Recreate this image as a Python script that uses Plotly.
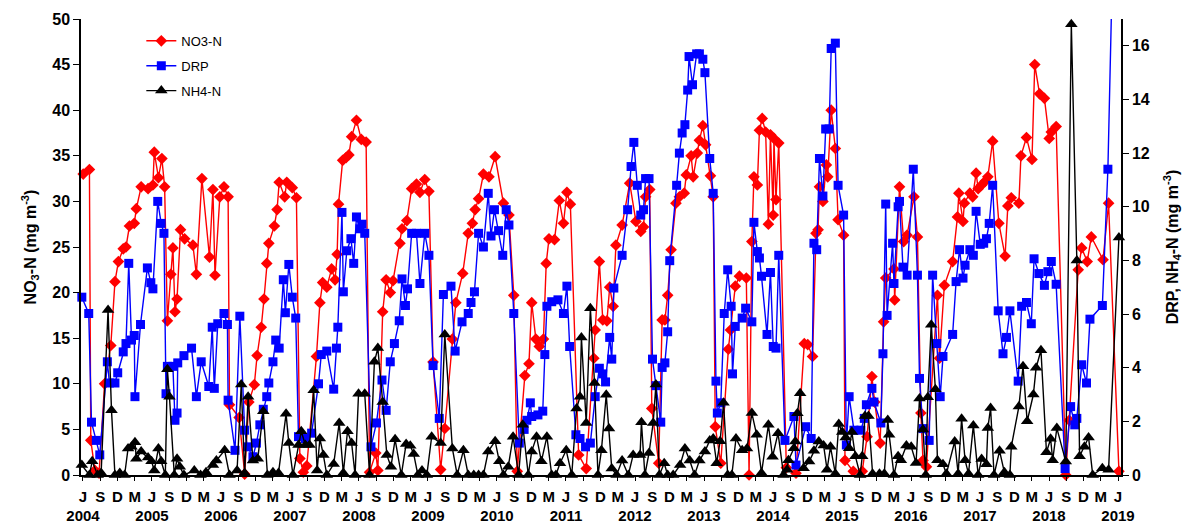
import plotly.graph_objects as go

# ---- sampling times (decimal years) and values ----
no3_t = [2004.42, 2004.51, 2004.53, 2004.59, 2004.65, 2004.73, 2004.82, 2004.88, 2004.93, 2005.00,
         2005.04, 2005.09, 2005.16, 2005.19, 2005.26, 2005.36, 2005.43, 2005.45, 2005.51, 2005.56,
         2005.60, 2005.64, 2005.69, 2005.72, 2005.75, 2005.78, 2005.83, 2005.89, 2006.01, 2006.06,
         2006.14, 2006.25, 2006.30, 2006.33, 2006.40, 2006.46, 2006.52, 2006.54, 2006.68, 2006.76,
         2006.82, 2006.90, 2006.94, 2007.00, 2007.04, 2007.08, 2007.11, 2007.19, 2007.23, 2007.26,
         2007.34, 2007.37, 2007.45, 2007.51, 2007.56, 2007.61, 2007.66, 2007.80, 2007.85, 2007.89,
         2007.95, 2008.02, 2008.07, 2008.10, 2008.12, 2008.18, 2008.23, 2008.27, 2008.31, 2008.38,
         2008.45, 2008.52, 2008.57, 2008.66, 2008.69, 2008.76, 2008.81, 2008.87, 2008.91, 2009.01,
         2009.04, 2009.11, 2009.18, 2009.25, 2009.30, 2009.37, 2009.43, 2009.49, 2009.60, 2009.66,
         2009.77, 2009.82, 2009.92, 2010.00, 2010.06, 2010.10, 2010.15, 2010.22, 2010.30, 2010.39,
         2010.51, 2010.59, 2010.66, 2010.71, 2010.82, 2010.88, 2010.92, 2010.98, 2011.03, 2011.09,
         2011.13, 2011.17, 2011.25, 2011.32, 2011.38, 2011.43, 2011.48, 2011.60, 2011.71, 2011.82,
         2011.84, 2011.90, 2011.95, 2012.01, 2012.05, 2012.10, 2012.14, 2012.23, 2012.34, 2012.43,
         2012.50, 2012.54, 2012.57, 2012.63, 2012.66, 2012.76, 2012.81, 2012.85, 2012.89, 2012.94,
         2013.01, 2013.06, 2013.13, 2013.16, 2013.23, 2013.26, 2013.32, 2013.35, 2013.40, 2013.44,
         2013.51, 2013.55, 2013.58, 2013.66, 2013.77, 2013.80, 2013.87, 2013.93, 2014.03, 2014.07,
         2014.11, 2014.14, 2014.19, 2014.22, 2014.26, 2014.31, 2014.35, 2014.38, 2014.42, 2014.43,
         2014.46, 2014.50, 2014.61, 2014.75, 2014.87, 2014.92, 2014.99, 2015.04, 2015.07, 2015.09,
         2015.14, 2015.19, 2015.21, 2015.26, 2015.32, 2015.36, 2015.44, 2015.46, 2015.58, 2015.71,
         2015.78, 2015.85, 2015.89, 2015.97, 2016.02, 2016.05, 2016.17, 2016.18, 2016.25, 2016.31,
         2016.36, 2016.46, 2016.51, 2016.56, 2016.59, 2016.64, 2016.80, 2016.83, 2016.90, 2017.02,
         2017.09, 2017.11, 2017.17, 2017.19, 2017.27, 2017.31, 2017.36, 2017.39, 2017.44, 2017.49,
         2017.53, 2017.60, 2017.69, 2017.78, 2017.82, 2017.87, 2017.98, 2018.01, 2018.09, 2018.17,
         2018.21, 2018.28, 2018.35, 2018.42, 2018.45, 2018.52, 2018.66, 2018.71, 2018.84, 2018.89,
         2018.97, 2019.03, 2019.20, 2019.28, 2019.43]
no3_v = [33.0, 33.5, 3.8, 0.5, 0.2, 10.0, 14.2, 21.2, 23.4, 24.8,
         25.0, 27.3, 27.6, 29.2, 31.6, 31.4, 31.8, 35.4, 32.6, 34.7,
         31.6, 16.9, 22.0, 24.9, 17.9, 19.3, 26.9, 25.9, 25.2, 22.0,
         32.5, 23.9, 31.3, 21.9, 30.5, 31.6, 30.5, 7.7, 6.3, 0.1,
         8.0, 9.9, 13.1, 16.2, 19.3, 23.2, 25.4, 27.3, 29.1, 32.1,
         30.5, 32.1, 31.5, 30.4, 1.8, 0.3, 1.0, 13.0, 18.9, 21.1,
         20.6, 22.6, 21.4, 24.2, 29.7, 34.5, 34.8, 35.1, 37.1, 38.9,
         36.8, 36.5, 0.3, 2.4, 0.5, 17.9, 21.4, 20.0, 21.3, 25.4,
         27.0, 27.9, 31.4, 31.9, 31.0, 32.4, 31.1, 12.4, 0.6, 5.1,
         14.9, 18.9, 22.1, 26.5, 27.6, 29.1, 30.3, 33.0, 32.7, 34.9,
         29.8, 28.5, 19.7, 0.4, 10.9, 12.2, 18.9, 14.9, 14.1, 14.9,
         23.2, 25.9, 25.8, 30.1, 27.6, 31.0, 29.7, 2.2, 0.7, 12.8,
         15.9, 23.4, 17.0, 16.9, 20.6, 18.5, 25.2, 27.4, 32.0, 27.8,
         26.7, 27.2, 30.5, 31.3, 7.3, 1.3, 17.0, 17.0, 19.7, 24.7,
         29.8, 30.5, 30.9, 32.9, 35.0, 32.7, 35.3, 36.7, 38.3, 36.2,
         32.8, 30.5, 5.3, 1.3, 13.8, 15.9, 20.7, 21.8, 21.6, 0.0,
         25.6, 32.7, 31.8, 37.8, 39.1, 37.6, 27.5, 37.3, 28.5, 36.9,
         30.2, 36.4, 0.8, 0.2, 14.4, 14.3, 13.0, 26.5, 26.9, 31.6,
         30.0, 34.0, 32.7, 40.0, 35.8, 28.0, 26.3, 1.6, 0.4, 0.4,
         4.2, 10.8, 8.0, 3.5, 16.8, 21.6, 22.6, 19.2, 31.6, 25.6,
         26.3, 30.5, 26.1, 6.8, 1.6, 0.9, 19.7, 12.8, 20.8, 23.4,
         28.3, 30.9, 27.8, 29.8, 30.9, 30.5, 33.1, 31.4, 31.8, 32.2,
         32.7, 36.6, 27.6, 24.0, 29.5, 30.4, 29.8, 35.0, 37.0, 34.6,
         45.0, 41.8, 41.3, 36.9, 37.6, 38.2, 0.0, 6.0, 22.5, 24.9,
         23.4, 26.1, 23.6, 29.8, 0.4]

drp_t = [2004.40, 2004.50, 2004.54, 2004.61, 2004.66, 2004.77, 2004.80, 2004.88, 2004.92, 2005.00,
         2005.04, 2005.08, 2005.12, 2005.16, 2005.17, 2005.25, 2005.35, 2005.40, 2005.43, 2005.50,
         2005.55, 2005.59, 2005.62, 2005.64, 2005.72, 2005.75, 2005.78, 2005.79, 2005.88, 2005.99,
         2006.06, 2006.13, 2006.24, 2006.29, 2006.32, 2006.37, 2006.46, 2006.51, 2006.52, 2006.62,
         2006.69, 2006.76, 2006.80, 2006.88, 2006.93, 2006.98, 2007.03, 2007.08, 2007.11, 2007.17,
         2007.21, 2007.26, 2007.32, 2007.35, 2007.40, 2007.45, 2007.50, 2007.54, 2007.64, 2007.73,
         2007.83, 2007.87, 2007.95, 2008.05, 2008.09, 2008.11, 2008.17, 2008.19, 2008.24, 2008.30,
         2008.34, 2008.38, 2008.43, 2008.46, 2008.50, 2008.59, 2008.67, 2008.75, 2008.81, 2008.87,
         2008.93, 2009.00, 2009.04, 2009.09, 2009.12, 2009.18, 2009.25, 2009.30, 2009.37, 2009.43,
         2009.49, 2009.58, 2009.64, 2009.75, 2009.81, 2009.91, 2010.00, 2010.04, 2010.09, 2010.15,
         2010.22, 2010.29, 2010.33, 2010.38, 2010.44, 2010.50, 2010.55, 2010.59, 2010.66, 2010.74,
         2010.81, 2010.85, 2010.90, 2010.92, 2011.01, 2011.08, 2011.11, 2011.14, 2011.21, 2011.30,
         2011.38, 2011.43, 2011.47, 2011.56, 2011.62, 2011.70, 2011.77, 2011.84, 2011.90, 2011.95,
         2011.99, 2012.05, 2012.08, 2012.11, 2012.23, 2012.31, 2012.36, 2012.40, 2012.45, 2012.50,
         2012.54, 2012.57, 2012.62, 2012.67, 2012.72, 2012.79, 2012.81, 2012.85, 2012.89, 2012.92,
         2013.02, 2013.06, 2013.10, 2013.14, 2013.18, 2013.20, 2013.25, 2013.31, 2013.35, 2013.40,
         2013.43, 2013.50, 2013.55, 2013.59, 2013.61, 2013.66, 2013.71, 2013.76, 2013.81, 2013.83,
         2013.87, 2013.97, 2014.02, 2014.11, 2014.14, 2014.19, 2014.22, 2014.25, 2014.33, 2014.38,
         2014.42, 2014.46, 2014.50, 2014.59, 2014.72, 2014.75, 2014.89, 2014.97, 2015.01, 2015.05,
         2015.09, 2015.14, 2015.18, 2015.23, 2015.26, 2015.32, 2015.36, 2015.44, 2015.48, 2015.52,
         2015.59, 2015.69, 2015.74, 2015.77, 2015.85, 2015.88, 2015.98, 2016.01, 2016.05, 2016.07,
         2016.15, 2016.17, 2016.23, 2016.25, 2016.30, 2016.36, 2016.45, 2016.51, 2016.54, 2016.59,
         2016.68, 2016.73, 2016.79, 2016.84, 2016.88, 2017.02, 2017.07, 2017.12, 2017.17, 2017.20,
         2017.27, 2017.32, 2017.36, 2017.42, 2017.47, 2017.51, 2017.55, 2017.60, 2017.68, 2017.75,
         2017.80, 2017.85, 2017.97, 2018.02, 2018.09, 2018.16, 2018.20, 2018.27, 2018.35, 2018.40,
         2018.45, 2018.52, 2018.65, 2018.73, 2018.79, 2018.82, 2018.89, 2018.96, 2019.01, 2019.19,
         2019.27, 2019.42]
drp_v = [6.63, 6.02, 1.97, 1.29, 0.75, 4.22, 3.43, 3.43, 3.81, 4.59,
         4.90, 7.89, 5.03, 5.20, 2.92, 5.61, 7.72, 7.17, 6.94, 10.2,
         9.38, 9.01, 3.03, 4.05, 4.05, 2.04, 2.31, 4.18, 4.45, 4.73,
         2.92, 4.22, 3.30, 5.51, 3.23, 5.64, 6.02, 5.61, 2.79, 0.92,
         5.92, 1.67, 1.05, 0.68, 1.19, 1.87, 2.45, 2.92, 3.43, 4.22,
         5.03, 4.73, 7.28, 6.05, 7.85, 6.63, 5.85, 1.43, 1.36, 1.56,
         3.40, 4.49, 4.62, 3.20, 4.73, 5.51, 9.79, 6.83, 8.36, 8.81,
         7.89, 9.62, 9.18, 9.35, 9.01, 1.05, 1.94, 3.54, 2.41, 4.22,
         4.90, 5.75, 7.31, 6.32, 6.94, 9.01, 9.01, 7.14, 9.01, 8.19,
         4.08, 2.11, 6.73, 7.04, 4.62, 5.71, 6.02, 6.43, 6.83, 9.01,
         8.50, 10.5, 8.91, 9.89, 9.11, 8.19, 9.89, 9.32, 6.02, 1.19,
         1.70, 2.04, 2.69, 2.18, 2.24, 2.38, 4.49, 6.29, 6.46, 6.53,
         6.02, 7.04, 4.79, 1.50, 1.36, 1.05, 1.19, 2.92, 3.98, 3.77,
         3.47, 5.13, 4.32, 6.97, 8.19, 9.89, 11.5, 12.4, 10.8, 9.69,
         9.89, 11.05, 11.05, 4.32, 3.33, 1.97, 4.01, 4.18, 5.34, 7.99,
         10.8, 12.0, 12.75, 13.06, 14.35, 15.6, 14.55, 15.7, 15.7, 15.5,
         15.0, 11.8, 10.5, 3.50, 2.31, 2.69, 6.02, 7.65, 6.29, 3.77,
         5.54, 5.85, 6.22, 5.71, 9.42, 8.33, 8.09, 7.41, 5.24, 7.55,
         4.79, 4.73, 8.19, 1.29, 2.18, 0.37, 1.80, 1.36, 8.64, 8.40,
         11.8, 10.4, 12.9, 12.9, 15.9, 16.1, 10.8, 9.69, 1.12, 2.92,
         1.67, 1.67, 2.11, 2.62, 3.23, 2.72, 1.94, 4.52, 10.1, 5.95,
         8.64, 7.14, 10.0, 10.2, 7.75, 7.45, 11.4, 7.45, 3.60, 1.73,
         1.29, 7.45, 4.90, 2.92, 4.42, 5.24, 7.21, 8.40, 7.34, 7.82,
         8.40, 8.19, 9.83, 8.60, 8.64, 8.81, 9.38, 10.8, 6.12, 4.52,
         5.13, 6.12, 3.50, 6.29, 6.43, 5.64, 8.06, 7.51, 7.07, 7.58,
         7.96, 7.11, 0.24, 2.55, 1.87, 2.11, 4.11, 3.43, 5.81, 6.32,
         11.4, 28.5]

nh4_t = [2004.40, 2004.51, 2004.55, 2004.63, 2004.68, 2004.78, 2004.83, 2004.88, 2004.95, 2005.02,
         2005.07, 2005.12, 2005.17, 2005.19, 2005.26, 2005.36, 2005.41, 2005.45, 2005.51, 2005.55,
         2005.61, 2005.64, 2005.67, 2005.74, 2005.78, 2005.82, 2005.88, 2006.03, 2006.12, 2006.20,
         2006.30, 2006.35, 2006.47, 2006.54, 2006.65, 2006.71, 2006.76, 2006.81, 2006.88, 2006.95,
         2007.03, 2007.09, 2007.17, 2007.25, 2007.36, 2007.40, 2007.46, 2007.54, 2007.58, 2007.64,
         2007.70, 2007.76, 2007.81, 2007.85, 2007.90, 2007.95, 2008.05, 2008.13, 2008.19, 2008.25,
         2008.31, 2008.36, 2008.41, 2008.50, 2008.57, 2008.64, 2008.69, 2008.76, 2008.82, 2008.88,
         2008.94, 2009.03, 2009.10, 2009.16, 2009.21, 2009.27, 2009.33, 2009.40, 2009.47, 2009.60,
         2009.66, 2009.77, 2009.84, 2009.93, 2010.00, 2010.08, 2010.15, 2010.22, 2010.29, 2010.39,
         2010.45, 2010.51, 2010.58, 2010.65, 2010.73, 2010.79, 2010.87, 2010.92, 2010.99, 2011.06,
         2011.14, 2011.21, 2011.27, 2011.33, 2011.42, 2011.50, 2011.57, 2011.62, 2011.64, 2011.71,
         2011.77, 2011.83, 2011.88, 2011.93, 2012.00, 2012.04, 2012.08, 2012.15, 2012.23, 2012.32,
         2012.39, 2012.49, 2012.51, 2012.56, 2012.62, 2012.68, 2012.72, 2012.77, 2012.84, 2012.89,
         2012.97, 2013.07, 2013.14, 2013.21, 2013.28, 2013.35, 2013.43, 2013.50, 2013.55, 2013.60,
         2013.65, 2013.70, 2013.76, 2013.82, 2013.88, 2013.97, 2014.04, 2014.11, 2014.18, 2014.25,
         2014.35, 2014.41, 2014.49, 2014.57, 2014.62, 2014.64, 2014.72, 2014.74, 2014.77, 2014.81,
         2014.86, 2014.94, 2015.01, 2015.08, 2015.15, 2015.20, 2015.25, 2015.32, 2015.37, 2015.42,
         2015.47, 2015.52, 2015.56, 2015.61, 2015.68, 2015.71, 2015.75, 2015.80, 2015.86, 2015.96,
         2016.03, 2016.08, 2016.10, 2016.17, 2016.23, 2016.27, 2016.35, 2016.42, 2016.49, 2016.54,
         2016.59, 2016.63, 2016.66, 2016.71, 2016.77, 2016.80, 2016.88, 2016.93, 2017.05, 2017.10,
         2017.15, 2017.20, 2017.25, 2017.32, 2017.39, 2017.44, 2017.51, 2017.53, 2017.57, 2017.62,
         2017.70, 2017.77, 2017.85, 2017.87, 2017.98, 2018.04, 2018.10, 2018.19, 2018.23, 2018.30,
         2018.38, 2018.44, 2018.47, 2018.53, 2018.66, 2018.74, 2018.82, 2018.86, 2018.93, 2018.99,
         2019.05, 2019.19, 2019.28, 2019.43]
nh4_v = [0.37, 0.0, 0.51, 0.0, 0.07, 6.15, 2.41, 0.0, 0.07, 0.0,
         0.99, 1.05, 1.22, 0.61, 0.88, 0.65, 0.51, 0.17, 0.99, 0.51,
         0.0, 3.94, 2.92, 0.0, 0.61, 0.31, 0.0, 0.17, 0.0, 0.10,
         0.37, 0.54, 0.92, 0.0, 0.17, 3.37, 0.07, 2.92, 0.54, 0.61,
         2.38, 0.0, 0.10, 0.07, 2.28, 1.19, 0.0, 1.12, 1.63, 1.12,
         1.12, 3.16, 0.17, 1.36, 0.75, 0.0, 0.41, 1.94, 0.07, 1.63,
         1.19, 0.0, 3.03, 3.03, 0.0, 4.22, 4.73, 2.72, 0.75, 0.31,
         1.33, 0.0, 1.16, 1.09, 0.78, 0.0, 0.17, 0.0, 1.43, 1.19,
         5.24, 0.99, 0.0, 0.92, 0.0, 0.0, 0.0, 0.0, 0.88, 1.26,
         0.51, 0.0, 0.31, 1.43, 0.0, 1.87, 0.0, 0.88, 1.43, 0.51,
         1.43, 0.0, 0.0, 0.44, 0.92, 0.0, 2.48, 2.92, 5.13, 1.94,
         6.22, 3.43, 0.0, 0.92, 2.99, 1.73, 0.24, 0.0, 0.54, 0.0,
         0.75, 0.75, 1.97, 0.0, 0.82, 1.94, 3.37, 0.0, 0.44, 0.0,
         0.0, 0.37, 0.99, 0.54, 0.0, 0.54, 0.88, 1.29, 1.36, 0.44,
         1.26, 2.69, 0.0, 0.0, 1.36, 0.92, 0.99, 2.31, 1.50, 0.07,
         1.87, 0.68, 1.56, 0.0, 0.2, 0.55, 1.0, 1.25, 2.3, 3.05,
         0.25, 0.5, 0.9, 1.25, 1.1, 0.2, 1.05, 0.05, 1.9, 1.6,
         1.4, 1.0, 1.6, 0.7, 0.0, 0.7, 2.2, 2.2, 0.05, 0.05,
         0.05, 2.05, 1.5, 0.0, 0.7, 0.55, 1.1, 1.05, 0.45, 2.85,
         1.7, 0.0, 2.9, 5.6, 3.2, 0.55, 0.4, 0.05, 1.25, 0.05,
         2.1, 0.55, 0.05, 1.85, 0.0, 0.6, 0.4, 1.75, 2.5, 0.0,
         0.9, 0.1, 0.0, 1.05, 2.55, 4.05, 2.0, 3.0, 4.0, 4.65,
         0.85, 1.35, 0.55, 1.75, 0.5, 16.8, 8.0, 0.7, 1.05, 1.4,
         0.0, 0.25, 0.2, 8.85]

years = list(range(2004, 2020))
month_letters = {3: "M", 6: "J", 9: "S", 12: "D"}

assert len(no3_t) == len(no3_v)
assert len(drp_t) == len(drp_v)
assert len(nh4_t) == len(nh4_v)

x_min, x_max = 2004.388, 2019.46
tickvals, ticktext = [], []
for y in years:
    for m in (3, 6, 9, 12):
        v = y + (m - 1) / 12
        if x_min <= v <= x_max:
            tickvals.append(v)
            ticktext.append(month_letters[m] + ("<br>" + str(y) if m == 6 else ""))

FONT = "Liberation Sans, Arial, sans-serif"

fig = go.Figure()
fig.add_trace(go.Scatter(
    x=no3_t, y=no3_v, name="NO3-N", mode="lines+markers", legendgroup="a",
    line=dict(color="#FF0000", width=1.4),
    marker=dict(symbol="diamond", size=9, color="#FF0000"),
    cliponaxis=False, yaxis="y"))
fig.add_trace(go.Scatter(
    x=drp_t, y=drp_v, name="DRP", mode="lines+markers", legendgroup="b",
    line=dict(color="#0000FF", width=1.4),
    marker=dict(symbol="square", size=9, color="#0000FF"),
    cliponaxis=False, yaxis="y2"))
fig.add_trace(go.Scatter(
    x=nh4_t, y=nh4_v, name="NH4-N", mode="lines+markers", legendgroup="c",
    line=dict(color="#000000", width=1.4),
    marker=dict(symbol="triangle-up", size=11, color="#000000"),
    cliponaxis=False, yaxis="y2"))

axis_font = dict(family=FONT, size=16, color="black", weight="bold")
xtick_font = dict(family=FONT, size=15, color="black", weight="bold")

fig.update_layout(
    width=1188, height=528,
    margin=dict(l=81, r=67, t=19, b=53, autoexpand=False),
    paper_bgcolor="white", plot_bgcolor="white",
    font=dict(family=FONT, color="black"),
    showlegend=True,
    legend=dict(x=0.058, y=0.985, xanchor="left", yanchor="top",
                font=dict(family=FONT, size=13, color="black"),
                bgcolor="rgba(0,0,0,0)", tracegroupgap=5, itemwidth=30),
    xaxis=dict(range=[x_min, x_max], tickmode="array", tickvals=tickvals, ticktext=ticktext,
               tickangle=0, automargin=False,
               showgrid=False, zeroline=False, showline=True, linecolor="black", linewidth=1.5,
               ticks="outside", ticklen=4, tickcolor="black", tickfont=xtick_font,
               ticklabelstandoff=3),
    yaxis=dict(range=[0, 50], dtick=5, showgrid=False, zeroline=False, showline=True,
               automargin=False,
               linecolor="black", linewidth=1.5, ticks="outside", ticklen=6, tickcolor="black",
               tickfont=axis_font,
               title=dict(text="NO<sub>3</sub>-N (mg m<sup>-3</sup>)", font=axis_font, standoff=12)),
    yaxis2=dict(range=[0, 17], tickvals=[0, 2, 4, 6, 8, 10, 12, 14, 16], overlaying="y",
                side="right", showgrid=False, zeroline=False, showline=True, automargin=False,
                linecolor="black", linewidth=1.5, ticks="outside", ticklen=6, tickcolor="black",
                tickfont=axis_font,
                title=dict(text="DRP, NH<sub>4</sub>-N (mg m<sup>-3</sup>)", font=axis_font, standoff=18)),
)

fig.write_html("out.html")
